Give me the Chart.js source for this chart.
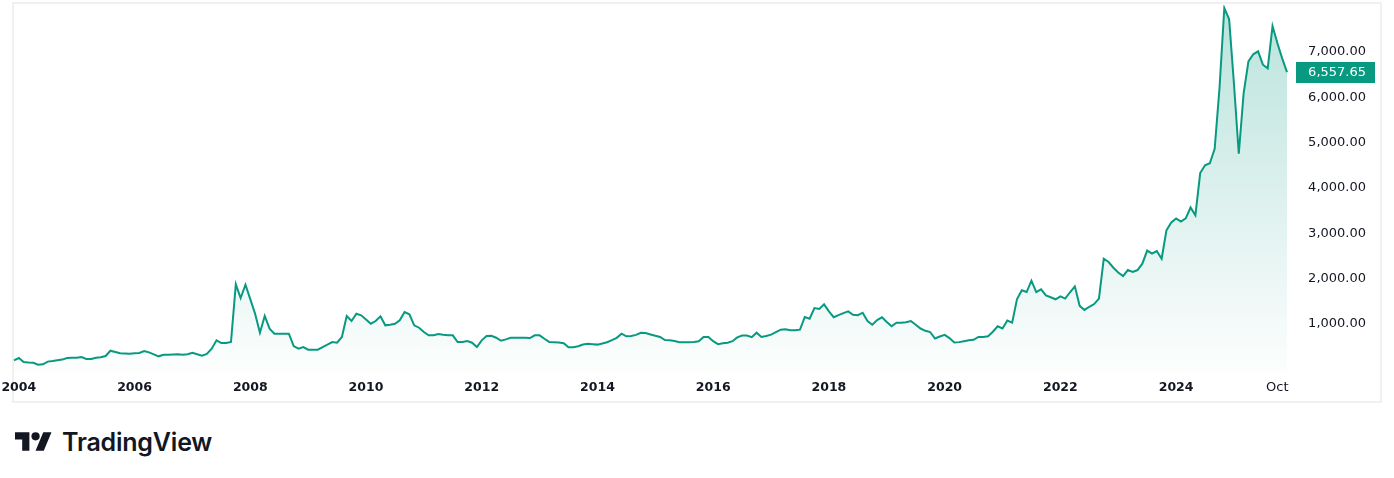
<!DOCTYPE html>
<html>
<head>
<meta charset="utf-8">
<script src="https://cdn.jsdelivr.net/npm/chart.js@4.4.1/dist/chart.umd.min.js"></script>
<style>
  body { margin: 0; background: #fff; width: 1394px; height: 478px; overflow: hidden; position: relative; }
  #frame { position: absolute; left: 12px; top: 2px; width: 1366px; height: 397px; border: 2px solid #f0f0f0; }
  #wrap { position: absolute; left: 0; top: 0; width: 1394px; height: 404px; }
  #logo { position: absolute; left: 15px; top: 427px; height: 30px; display: flex; align-items: center; }
  #logo span { font-family: Inter, "Noto Sans", sans-serif; font-weight: 600; font-size: 25px; color: #131722; margin-left: 10px; letter-spacing: -0.2px; }
</style>
</head>
<body>
<div id="frame"></div>
<div id="wrap"><canvas id="price-chart" width="1394" height="404"></canvas></div>
<div id="logo">
  <svg width="37" height="29" viewBox="0 0 36 28"><path d="M14 22H7V11H0V4h14v18zM28 22h-8l7.5-18h8L28 22z" fill="#131722"/><circle cx="20" cy="8" r="4" fill="#131722"/></svg>
  <span>TradingView</span>
</div>
<script>
// monthly closes, Dec 2003 .. Dec 2025
const prices = [
  199, 249, 161, 150, 146, 101, 110, 170, 183, 199, 215, 250, 256,
  256, 271, 227, 227, 256, 265, 293, 410, 382, 353, 348, 344,
  355, 360, 404, 375, 330, 287, 322, 322, 328, 331, 322, 331,
  366, 331, 300, 338, 454, 640, 580, 580, 602, 1875, 1573, 1866,
  1550, 1227, 808, 1176, 896, 786, 786, 786, 786, 514, 455, 492,
  433, 433, 433, 492, 543, 602, 587, 713, 1176, 1066, 1227, 1191,
  1100, 1006, 1066, 1169, 971, 984, 1006, 1081, 1264, 1213, 971, 918,
  823, 750, 750, 779, 763, 750, 750, 602, 602, 624, 587, 492,
  640, 735, 740, 697, 630, 660, 697, 697, 697, 695, 690, 750,
  750, 675, 605, 598, 590, 575, 485, 485, 510, 548, 562, 555,
  545, 570, 598, 645, 695, 786, 728, 735, 760, 805, 801, 770,
  740, 713, 645, 640, 625, 598, 596, 598, 605, 620, 713, 713,
  620, 555, 575, 585, 620, 705, 745, 745, 710, 808, 713, 735,
  765, 820, 874, 882, 860, 860, 874, 1154, 1116, 1350, 1330, 1434,
  1279, 1150, 1195, 1240, 1279, 1205, 1195, 1249, 1066, 984, 1088, 1147,
  1043, 949, 1028, 1028, 1040, 1066, 985, 900, 850, 823, 680, 725,
  760, 690, 590, 600, 620, 640, 650, 713, 713, 728, 830, 950,
  900, 1075, 1030, 1544, 1743, 1705, 1955, 1705, 1765, 1630, 1590, 1545,
  1610, 1560, 1700, 1830, 1400, 1310, 1380, 1440, 1560, 2440, 2367, 2241,
  2135, 2055, 2190, 2150, 2190, 2330, 2620, 2551, 2610, 2440, 3066, 3240,
  3330, 3260, 3330, 3570, 3397, 4330, 4500, 4545, 4866, 6200, 7970, 7721,
  6300, 4756, 6080, 6794, 6950, 7015, 6720, 6640, 7573, 7200, 6860, 6557.65
];

const yTicks = [1000, 2000, 3000, 4000, 5000, 6000, 7000];
const yearTicks = ['2004', '2006', '2008', '2010', '2012', '2014', '2016', '2018', '2020', '2022', '2024'];
const monthTick = { label: '2025-10', text: 'Oct' };

// category labels "YYYY-MM", one per price
const months = [];
for (let i = 0; i < prices.length; i++) {
  const y = 2003 + Math.floor((11 + i) / 12);
  const m = (11 + i) % 12 + 1;
  months.push(y + '-' + String(m).padStart(2, '0'));
}

const green = '#089981';
const fmt = v => v.toLocaleString('en-US', { minimumFractionDigits: 2, maximumFractionDigits: 2 });

function tickText(label) {
  if (label === monthTick.label) return monthTick.text;
  const [y, m] = label.split('-');
  if (m === '01' && yearTicks.includes(y)) return y;
  return '';
}

// last value badge on the price scale
const lastBadge = {
  id: 'lastBadge',
  afterDraw(chart) {
    const c = chart.ctx;
    const yScale = chart.scales.y;
    const last = prices[prices.length - 1];
    const y = yScale.getPixelForValue(last);
    c.save();
    c.fillStyle = green;
    c.fillRect(1296, Math.round(y) - 10, 79, 21);
    c.fillStyle = '#fff';
    c.font = '13px "DejaVu Sans"';
    c.textAlign = 'right';
    c.textBaseline = 'middle';
    c.fillText(fmt(last), 1366, y + 1);
    c.restore();
  }
};

new Chart(document.getElementById('price-chart'), {
  type: 'line',
  data: {
    labels: months,
    datasets: [{
      data: prices,
      borderColor: green,
      borderWidth: 2,
      pointRadius: 0,
      tension: 0,
      fill: 'start',
      backgroundColor: (ctx) => {
        const area = ctx.chart.chartArea;
        if (!area) return 'rgba(8,153,129,0.1)';
        const g = ctx.chart.ctx.createLinearGradient(0, area.top, 0, area.bottom);
        g.addColorStop(0, 'rgba(8,153,129,0.28)');
        g.addColorStop(1, 'rgba(8,153,129,0.01)');
        return g;
      }
    }]
  },
  options: {
    responsive: false,
    animation: false,
    layout: { padding: { left: 14, right: 28, top: 5, bottom: 0 } },
    plugins: { legend: { display: false }, tooltip: { enabled: false } },
    scales: {
      x: {
        grid: { display: false, drawTicks: false },
        border: { display: false },
        afterFit: (s) => { s.height = 32; s.paddingLeft = 0; s.paddingRight = 0; },
        ticks: {
          autoSkip: false,
          maxRotation: 0,
          padding: 8,
          color: '#131722',
          font: (ctx) => ({
            family: 'DejaVu Sans',
            size: ctx.tick && ctx.tick.label === 'Oct' ? 13 : 12.5,
            weight: ctx.tick && ctx.tick.label === 'Oct' ? 'normal' : 'bold'
          }),
          callback: function (val, i) { return tickText(months[i]); }
        }
      },
      y: {
        position: 'right',
        min: -59,
        max: 8037,
        grid: { display: false, drawTicks: false },
        border: { display: false },
        afterFit: (s) => { s.width = 79; s.paddingTop = 0; s.paddingBottom = 0; },
        afterBuildTicks: (s) => { s.ticks = yTicks.map(v => ({ value: v })); },
        ticks: {
          crossAlign: 'far',
          color: '#131722',
          font: { family: 'DejaVu Sans', size: 13 },
          callback: (v) => fmt(v)
        }
      }
    }
  },
  plugins: [lastBadge]
});
</script>
</body>
</html>
